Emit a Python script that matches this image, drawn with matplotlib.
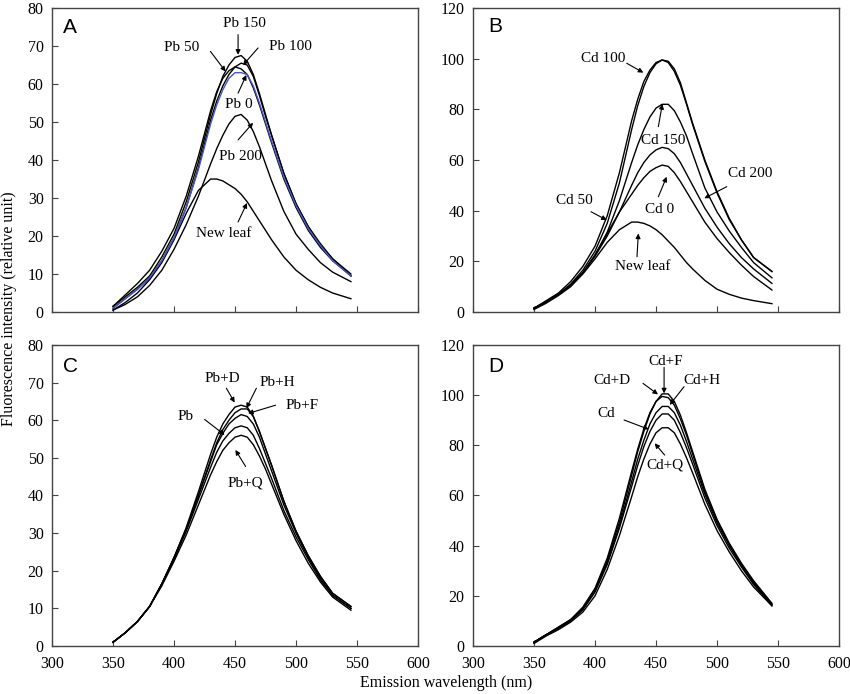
import matplotlib
matplotlib.use('Agg')
import matplotlib.pyplot as plt

plt.rcParams['font.family'] = ['Liberation Serif', 'DejaVu Serif']

# 波長 (nm)
wavelength = [350, 360, 370, 380, 390, 400, 410, 420, 430, 435, 440, 445, 450,
              455, 460, 465, 470, 475, 480, 490, 500, 510, 520, 530, 545]

# A: Pb 處理
pb_0 = [1, 3.5, 6, 9, 13.5, 19.5, 27.5, 37.5, 49.5, 54.5, 58.5, 61.5, 63,
        63, 62.5, 59.5, 55, 50, 45, 35.5, 28, 22, 17.5, 13.5, 9.5]
pb_50 = [1.5, 4.5, 7.5, 11, 16, 22, 30.5, 41, 53, 58, 61.5, 63.5, 64.5,
         64, 62.5, 59, 54.5, 49.5, 44.5, 35, 27.5, 21.5, 17, 13.5, 9.5]
pb_100 = [1, 3.5, 6, 9, 13.5, 19.5, 27.5, 38, 50.5, 55.5, 59.5, 62.5, 64.5,
          65.5, 65, 62, 57, 51.5, 46.5, 36.5, 28.5, 22.5, 17.5, 14, 9.5]
pb_150 = [1.5, 4, 6.5, 9.5, 14.5, 20.5, 29, 39.5, 52, 57.5, 62, 65, 67,
          67.5, 66, 62.5, 57.5, 52, 46.5, 36.5, 28.5, 22.5, 18, 14, 10]
pb_200 = [0.5, 2, 4, 7, 11, 16.5, 23, 30.5, 39, 43, 46.5, 49.5, 51.5,
          52, 50.5, 47.5, 43.5, 39, 34.5, 26.5, 20.5, 16.5, 13, 10.5, 8]
pb_new_leaf = [0.5, 2.5, 5, 8.5, 13, 19, 26, 32, 35, 35, 34.5, 33.5, 32.5,
               31, 29, 26.5, 24, 21.5, 19, 14.5, 11, 8.5, 6.5, 5, 3.5]

# B: Cd 處理
cd_0 = [1.5, 4, 7, 10.5, 15.5, 22.5, 31, 39.5, 46.5, 50, 53, 55.5, 57,
        58, 57.5, 55, 51.5, 47.5, 43.5, 35.5, 29, 23.5, 18.5, 14, 8.7]
cd_50 = [1.5, 4.5, 7.5, 12, 18, 26, 38, 55, 75.5, 84, 91, 95.5, 98.5,
         99.5, 98.5, 95, 89.5, 82, 74, 59.5, 47, 36.5, 28.5, 21.5, 16]
cd_100 = [1.5, 4, 7, 11, 16.5, 24, 35, 51, 72, 81.5, 89, 94.5, 98,
          99.5, 99, 96, 90.5, 82.5, 74.5, 60, 47.5, 37, 28.5, 21.5, 16]
cd_150 = [1.5, 4, 7, 10.5, 15.5, 22.5, 31.5, 44, 59, 66, 72, 77, 80.5,
          82, 82, 79.5, 75, 69.5, 62.5, 49, 39.5, 32, 25.5, 19.5, 13.5]
cd_200 = [1.5, 4, 7, 10.5, 15.5, 22, 30, 39.5, 50, 55, 59, 62, 64,
          65, 64.5, 62.5, 59, 54.5, 50, 41, 33.5, 27, 21.5, 17, 11.3]
cd_new_leaf = [1, 3.5, 6.5, 10, 15, 21, 27.5, 32.5, 35.5, 35.5, 35, 34, 32.5,
               30.5, 28, 25.5, 22.5, 19.5, 17, 12.5, 9, 7, 5.5, 4.5, 3.3]

# C: Pb + 處理
pb_d = [1, 3.5, 6.5, 10.5, 16.5, 23.5, 31.5, 41, 51, 55.5, 59, 61.5, 63.5,
        64, 63.5, 61, 57, 52.5, 48, 38.5, 30.5, 24, 18.5, 14, 10.5]
pb_h = [1, 3.5, 6.5, 10.5, 16.5, 23.5, 31, 40, 49.5, 54, 57.5, 60, 62,
        63, 63, 61, 57, 52.5, 48, 38.5, 30.5, 24, 18.5, 14, 10.5]
pb_f = [1, 3.5, 6.5, 10.5, 16.5, 23.5, 31, 40, 49, 53.5, 56.5, 59, 60.5,
        61.5, 61, 59, 55.5, 51, 46.5, 37.5, 30, 23.5, 18, 13.5, 10]
pb_only = [1, 3.5, 6.5, 10.5, 16.5, 23, 30.5, 39, 47.5, 51.5, 54.5, 56.5, 58,
           58.5, 58, 56, 52.5, 48.5, 44.5, 36, 29, 23, 17.5, 13.5, 10]
pb_q = [1, 3.5, 6.5, 10.5, 16, 22.5, 29.5, 37.5, 45.5, 49, 52, 54, 55.5,
        56, 55.5, 53.5, 50.5, 47, 43, 35, 28, 22, 17, 13, 9.5]

# D: Cd + 處理
cd_f = [1.5, 4.5, 7.5, 10.5, 15, 22.5, 34, 49.5, 68, 77.5, 85.5, 92.5, 97.5,
        100.5, 100.5, 97.5, 92, 85, 77.5, 62.5, 50.5, 41, 33, 26, 17]
cd_d = [1.5, 4.5, 7.5, 10.5, 15.5, 23, 35, 51, 69.5, 78.5, 86.5, 93, 97.5,
        99.5, 99, 96, 90.5, 84, 76.5, 61.5, 50, 40.5, 32.5, 25.5, 16.5]
cd_h = [1.5, 4.5, 7, 10, 14.5, 22, 33, 48, 65.5, 74.5, 82, 88.5, 93,
        95.5, 95.5, 93, 88, 81.5, 74.5, 60.5, 49, 40, 32, 25, 16.5]
cd_only = [1.5, 4.5, 7, 10, 14.5, 21.5, 32.5, 47, 63.5, 72, 79.5, 85.5, 90,
           92.5, 92.5, 90, 85, 79, 72.5, 59, 48, 39, 31.5, 24.5, 16]
cd_q = [1, 4, 6.5, 9.5, 13.5, 20, 30.5, 44, 59.5, 67.5, 74.5, 80.5, 85,
        87, 87, 85, 80.5, 75, 69, 56.5, 46, 37.5, 30, 23.5, 16]

xticks = [300, 350, 400, 450, 500, 550, 600]

fig = plt.figure(figsize=(8.5, 6.94), dpi=100)

# 四個子圖位置 (figure fraction)
ax_a = fig.add_axes([0.0612, 0.5504, 0.4306, 0.438])
ax_b = fig.add_axes([0.5565, 0.5504, 0.4306, 0.438])
ax_c = fig.add_axes([0.0612, 0.0692, 0.4306, 0.4337])
ax_d = fig.add_axes([0.5565, 0.0692, 0.4306, 0.4337])


def setup_axes(ax, ymax, ystep, letter, letter_xy, show_xlabels):
    ax.set_xlim(300, 600)
    ax.set_ylim(0, ymax)
    ax.set_xticks(xticks)
    ax.set_yticks(range(0, ymax + 1, ystep))
    ax.tick_params(direction='in', length=4, width=0.8, labelsize=11.5,
                   color='#444444')
    ax.tick_params(axis='y', pad=6)
    ax.tick_params(axis='x', pad=7, labelbottom=show_xlabels)
    for sp in ax.spines.values():
        sp.set_color('#444444')
        sp.set_linewidth(1.0)
    ax.text(letter_xy[0], letter_xy[1], letter, transform=ax.transAxes,
            ha='left', va='center', fontsize=15, family='Liberation Sans')


def label(ax, text, text_xy, tail, head):
    # 文字 + 箭頭
    ax.text(text_xy[0], text_xy[1], text, ha='center', va='center', fontsize=11)
    ax.annotate('', xy=head, xytext=tail,
                arrowprops=dict(arrowstyle='-|>', lw=0.8, color='black',
                                mutation_scale=7, shrinkA=0, shrinkB=0))


lw = 1.0

# A
for y in [pb_50, pb_100, pb_150, pb_200, pb_new_leaf]:
    ax_a.plot(wavelength, y, color='black', lw=lw)
ax_a.plot(wavelength, pb_0, color='#4a57c8', lw=lw)
setup_axes(ax_a, 80, 10, 'A', (0.03, 0.935), False)
label(ax_a, 'Pb 150', (458, 76), (452.5, 73), (452.5, 67.7))
label(ax_a, 'Pb 50', (406, 69.5), (429.8, 68.6), (442.3, 63.3))
label(ax_a, 'Pb 100', (495.6, 69.9), (468.9, 69.5), (456.6, 65))
label(ax_a, 'Pb 0', (453.3, 54.5), (452.5, 57.6), (459.3, 62.4))
label(ax_a, 'Pb 200', (454.4, 40.9), (452.5, 45.3), (464.8, 49.8))
label(ax_a, 'New leaf', (440.7, 20.7), (452.5, 23.7), (459.8, 28.7))

# B
for y in [cd_0, cd_50, cd_100, cd_150, cd_200, cd_new_leaf]:
    ax_b.plot(wavelength, y, color='black', lw=lw)
setup_axes(ax_b, 120, 20, 'B', (0.042, 0.94), False)
label(ax_b, 'Cd 100', (406.8, 100.1), (426, 98.2), (439.6, 94.5))
label(ax_b, 'Cd 150', (455.5, 67.9), (451.9, 73.2), (455.2, 82.1))
label(ax_b, 'Cd 200', (527, 54.5), (508, 49.5), (489.6, 44.9))
label(ax_b, 'Cd 50', (383, 44.2), (396.7, 39.6), (409.6, 36.3))
label(ax_b, 'Cd 0', (453.3, 40.5), (451.9, 45.5), (458.7, 53.4))
label(ax_b, 'New leaf', (438.8, 17.9), (434.4, 21.8), (435.5, 31))

# C
for y in [pb_d, pb_h, pb_f, pb_only, pb_q]:
    ax_c.plot(wavelength, y, color='black', lw=lw)
setup_axes(ax_c, 80, 10, 'C', (0.031, 0.928), True)
label(ax_c, 'Pb+D', (439.6, 71.1), (442.9, 68.5), (449.7, 64.7))
label(ax_c, 'Pb+H', (484.7, 70), (467.5, 68.5), (459.3, 63.2))
label(ax_c, 'Pb+F', (505.2, 63.8), (483.3, 64), (460.7, 61.8))
label(ax_c, 'Pb', (409.6, 60.9), (425.1, 60.2), (441.5, 56.1))
label(ax_c, 'Pb+Q', (458.7, 43.2), (458.7, 47.7), (450.3, 52.1))

# D
for y in [cd_f, cd_d, cd_h, cd_only, cd_q]:
    ax_d.plot(wavelength, y, color='black', lw=lw)
setup_axes(ax_d, 120, 20, 'D', (0.042, 0.928), True)
label(ax_d, 'Cd+F', (457.7, 113.4), (456.6, 111.1), (456.6, 100.7))
label(ax_d, 'Cd+D', (414.2, 106), (439.3, 104.7), (451.6, 100.3))
label(ax_d, 'Cd+H', (488, 105.8), (473, 103.4), (461.2, 96.1))
label(ax_d, 'Cd', (409.3, 92.8), (423.8, 90.1), (444, 86.4))
label(ax_d, 'Cd+Q', (457.7, 72.2), (457.1, 76.1), (448.9, 80.8))

# 共用座標軸標題
fig.text(0.011, 0.5555, 'Fluorescence intensity (relative unit)', rotation=90,
         ha='center', va='center', fontsize=11.5)
fig.text(0.525, 0.016, 'Emission wavelength (nm)', ha='center', va='center',
         fontsize=11.5)

fig.savefig('out.png', dpi=100)
